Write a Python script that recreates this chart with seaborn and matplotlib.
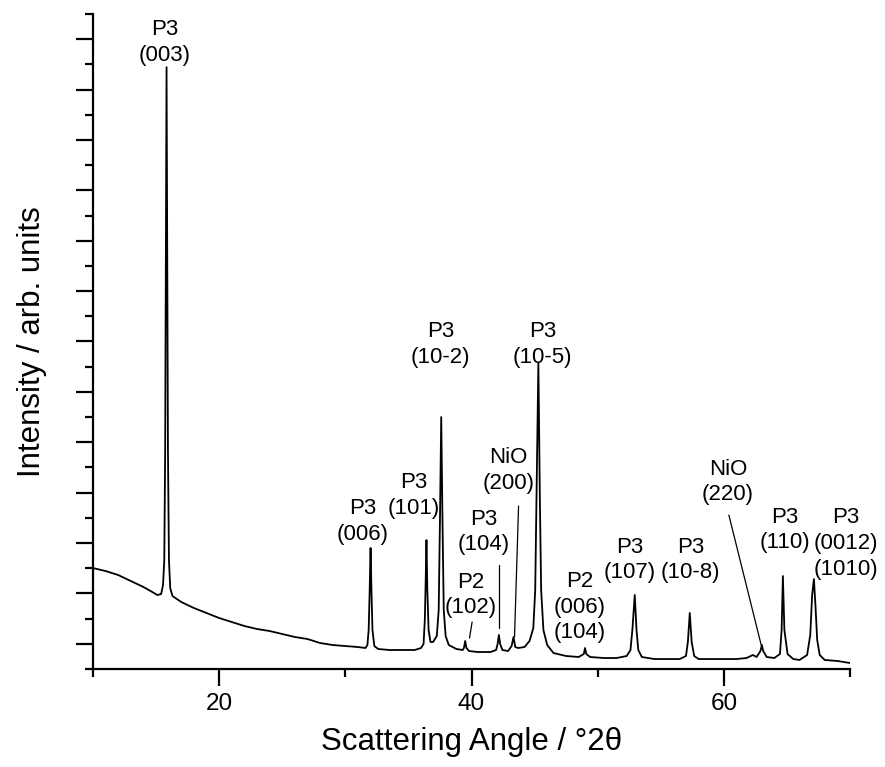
import numpy as np
import pandas as pd
import matplotlib
matplotlib.use("Agg")
import matplotlib.pyplot as plt
from matplotlib.ticker import MultipleLocator, NullFormatter
import seaborn as sns

# ---------------- data ----------------
two_theta = [
    10.0, 11.0, 12.0, 13.0, 14.0, 14.7, 15.1, 15.4,
    15.55, 15.65, 15.72, 15.78, 15.83, 15.88, 15.94, 16.02, 16.12, 16.3,
    17.0, 18.0, 19.0, 20.0, 21.0, 22.0, 23.0, 24.0, 25.0, 26.0, 27.0,
    28.0, 29.0, 30.0, 31.0, 31.6,
    31.75, 31.85, 31.93, 32.0, 32.07, 32.15, 32.3, 32.6,
    33.5, 34.5, 35.5, 36.0,
    36.2, 36.3, 36.37, 36.43, 36.5, 36.6, 36.75, 36.95,
    37.25, 37.4, 37.5, 37.6, 37.7, 37.8, 37.95, 38.2, 38.8, 39.3,
    39.4, 39.5, 39.6, 39.8, 40.5, 41.5, 41.95,
    42.07, 42.17, 42.27, 42.45, 42.9, 43.18,
    43.33, 43.47, 43.7, 44.2, 44.6,
    44.9, 45.05, 45.15, 45.3, 45.42, 45.52, 45.7, 46.0, 46.5, 47.5, 48.5,
    48.9, 49.0, 49.1, 49.4, 50.5, 51.5, 52.3,
    52.6, 52.75, 52.94, 53.08, 53.22, 53.5, 54.5, 55.5, 56.5, 57.0,
    57.15, 57.3, 57.45, 57.65, 58.0, 59.0, 60.0, 61.0, 61.8, 62.3, 62.6,
    62.9, 63.02, 63.12, 63.4, 64.0, 64.45,
    64.58, 64.68, 64.8, 65.05, 65.5, 66.0, 66.6,
    66.85, 67.0, 67.14, 67.26, 67.4, 67.6, 68.0, 69.0, 70.0,
]
intensity = [
    2004, 1944, 1865, 1746, 1627, 1528, 1468, 1488,
    1667, 2163, 4345, 8313, 11944, 8313, 4345, 2163, 1607, 1448,
    1329, 1210, 1111, 1012, 932, 853, 794, 754, 694, 635, 595,
    516, 476, 456, 436, 417,
    476, 774, 1567, 2401, 1567, 774, 456, 397,
    377, 377, 377, 417,
    496, 972, 1766, 2559, 1567, 774, 536, 536,
    655, 1171, 2956, 5000, 2956, 1171, 655, 476, 397, 377,
    417, 556, 417, 357, 337, 337, 377,
    496, 675, 496, 377, 357, 456,
    635, 436, 417, 436, 556,
    813, 1567, 3353, 6071, 3353, 1567, 774, 476, 317, 258, 238,
    298, 417, 298, 238, 218, 218, 258,
    377, 774, 1468, 774, 377, 238, 198, 198, 198, 258,
    536, 1111, 536, 258, 198, 198, 198, 198, 218, 278, 238,
    357, 476, 357, 238, 218, 298,
    774, 1845, 774, 298, 198, 179, 278,
    675, 1468, 1786, 1270, 575, 278, 179, 159, 119,
]

peak_labels = [
    "P3\n(003)", "P3\n(006)", "P3\n(101)", "P3\n(10-2)", "P2\n(102)",
    "P3\n(104)", "NiO\n(200)", "P3\n(10-5)", "P2\n(006)\n(104)",
    "P3\n(107)", "P3\n(10-8)", "NiO\n(220)", "P3\n(110)",
    "P3\n(0012)\n(1010)",
]
# label anchor positions (layout)
label_x = [15.71, 31.35, 35.40, 37.54, 39.92, 40.95, 42.94, 45.63, 48.57,
           52.54, 57.38, 60.32, 64.84, 69.68]
label_y = [12430, 2926, 3442, 6448, 1468, 2718, 3938, 6448, 1230,
           2163, 2163, 3710, 2758, 2490]
# connector lines (layout): (x0, y0, x1, y1)
connectors = [
    (40.05, 932, 39.84, 615),
    (42.20, 2063, 42.20, 813),
    (43.73, 3234, 43.41, 635),
    (60.40, 3055, 63.02, 417),
]

df = pd.DataFrame({"two_theta": two_theta, "intensity": intensity})

# ---------------- styling ----------------
sns.set_style("ticks")
plt.rcParams["font.family"] = ["Liberation Sans", "DejaVu Sans"]
plt.rcParams["text.color"] = "black"
plt.rcParams["axes.labelcolor"] = "black"
plt.rcParams["xtick.color"] = "black"
plt.rcParams["ytick.color"] = "black"

fig = plt.figure(figsize=(8.85, 7.67), dpi=100)
ax = fig.add_axes([93 / 885, 1 - 669 / 767, (850 - 93) / 885, (669 - 14) / 767])

sns.lineplot(data=df, x="two_theta", y="intensity", ax=ax,
             color="black", linewidth=1.3, estimator=None, sort=False)

ax.set_xlim(10, 70)
ax.set_ylim(0, 13000)

ax.xaxis.set_major_locator(MultipleLocator(20))
ax.xaxis.set_minor_locator(MultipleLocator(10))
ax.yaxis.set_major_locator(MultipleLocator(1000, offset=500))
ax.yaxis.set_minor_locator(MultipleLocator(500))
ax.yaxis.set_major_formatter(NullFormatter())

ax.tick_params(axis="both", which="major", direction="out", length=12,
               width=1.6, colors="black", labelsize=17.5, pad=5)
ax.tick_params(axis="both", which="minor", direction="out", length=6,
               width=1.6, colors="black")

for side in ("top", "right"):
    ax.spines[side].set_visible(False)
for side in ("left", "bottom"):
    ax.spines[side].set_linewidth(1.6)
    ax.spines[side].set_color("black")

ax.set_xlabel("Scattering Angle / °2θ", fontsize=22.5, labelpad=9)
ax.set_ylabel("Intensity / arb. units", fontsize=22.5, labelpad=16)

for txt, lx, ly in zip(peak_labels, label_x, label_y):
    ax.text(lx, ly, txt, ha="center", va="center", fontsize=16,
            linespacing=1.3, color="black")

for x0, y0, x1, y1 in connectors:
    ax.plot([x0, x1], [y0, y1], color="black", linewidth=0.9)

fig.savefig("out.png", dpi=100)
